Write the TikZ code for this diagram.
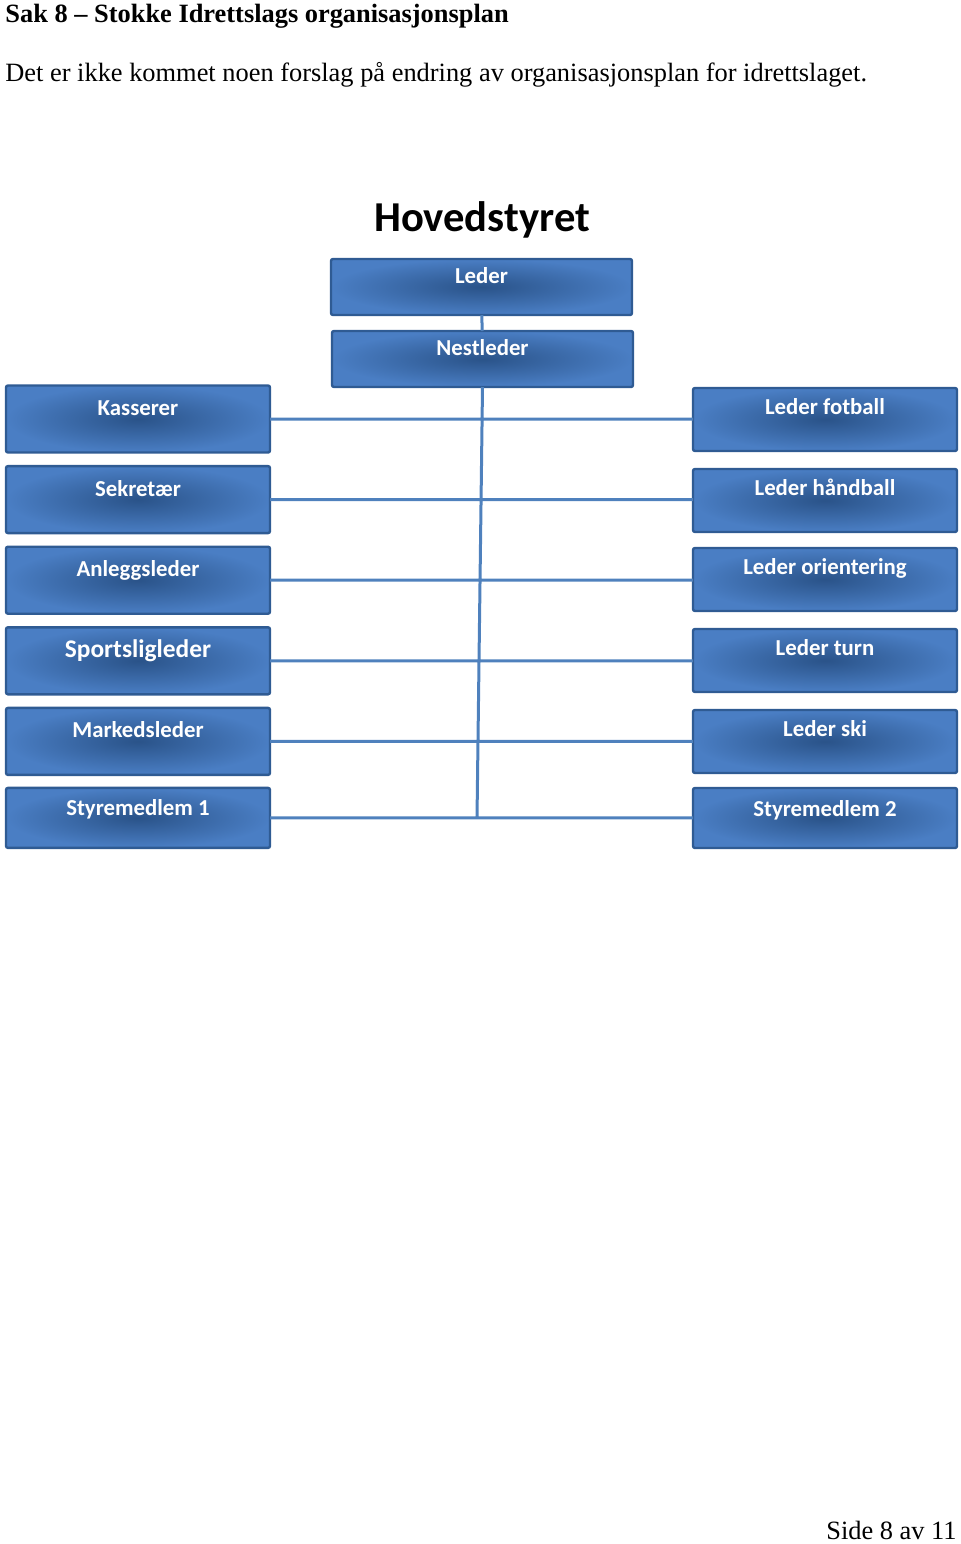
\documentclass[tikz,border=0pt]{standalone}
\usepackage{fontspec}
\setmainfont{Liberation Serif}
\newfontfamily\calibri{Carlito}
\usepackage{tikz}
\usetikzlibrary{positioning}
\definecolor{boksblaa}{HTML}{4A7EC4}
\definecolor{boksmork}{HTML}{2A5389}
\definecolor{kantblaa}{HTML}{2F5B93}
\definecolor{linjeblaa}{HTML}{4F81BD}

\begin{document}
\begin{tikzpicture}[x=0.5pt,y=-0.5pt,
  boks/.style={rectangle,draw=kantblaa,line width=1.2pt,rounded corners=1pt,
    inner color=boksmork,outer color=boksblaa,text=white,
    font=\calibri\bfseries\fontsize{11.4}{13}\selectfont,
    inner xsep=0pt,inner ysep=0pt,outer sep=0pt,minimum width=132pt},
  venstre/.style={boks,text height=15pt,text depth=18.5pt},
  hoyre/.style={boks,text height=13pt,text depth=18.5pt},
  topp/.style={boks,minimum width=150.5pt,text height=12pt,text depth=16pt},
  linje/.style={draw=linjeblaa,line width=1.5pt}]
  \useasboundingbox (0,0) rectangle (960,1544);

  % tekst
  \node[anchor=base west,inner sep=0pt] (tittel) at (5,22)
    {\fontsize{13.2}{15}\selectfont\bfseries Sak 8 – Stokke Idrettslags organisasjonsplan};
  \node[anchor=base west,inner sep=0pt] (forslag) at (5,81)
    {\fontsize{13.2}{15}\selectfont Det er ikke kommet noen forslag på endring av organisasjonsplan for idrettslaget.};
  \node[anchor=base,inner sep=0pt] (hovedstyret) at (482,231)
    {\calibri\bfseries\fontsize{21.3}{24}\selectfont Hovedstyret};
  \node[anchor=base east,inner sep=0pt] (side) at (957,1539)
    {\fontsize{13.2}{15}\selectfont Side 8 av 11};

  % styret
  \node[topp] (leder) at (481.5,287) {Leder};
  \node[topp] (nestleder) at (482.5,359) {Nestleder};

  \node[venstre] (kasserer) at (138,419) {Kasserer};
  \node[venstre] (sekretaer) [below=6.8pt of kasserer] {Sekretær};
  \node[venstre] (anlegg) [below=6.8pt of sekretaer] {Anleggsleder};
  \node[venstre,font=\calibri\bfseries\fontsize{12.7}{14}\selectfont] (sportslig) [below=6.8pt of anlegg] {Sportsligleder};
  \node[venstre] (marked) [below=6.8pt of sportslig] {Markedsleder};
  \node[venstre,text height=14pt,text depth=16pt] (styre1) [below=6.5pt of marked] {Styremedlem 1};

  \node[hoyre] (fotball) at (825,419.5) {Leder fotball};
  \node[hoyre] (handball) [below=9pt of fotball] {Leder håndball};
  \node[hoyre] (orientering) [below=8pt of handball] {Leder orientering};
  \node[hoyre] (turn) [below=9pt of orientering] {Leder turn};
  \node[hoyre] (ski) [below=9pt of turn] {Leder ski};
  \node[hoyre,text height=14pt,text depth=16pt] (styre2) [below=7.5pt of ski] {Styremedlem 2};

  \coordinate (bunn) at (477,819);

  \path[linje] (leder) -- (nestleder)
    (nestleder.south) -- (bunn)
    (kasserer.east) -- (kasserer.east -| fotball.west)
    (sekretaer.east) -- (sekretaer.east -| handball.west)
    (anlegg.east) -- (anlegg.east -| orientering.west)
    (sportslig.east) -- (sportslig.east -| turn.west)
    (marked.east) -- (marked.east -| ski.west)
    (styre1.east) -- (styre1.east -| styre2.west);
\end{tikzpicture}
\end{document}
